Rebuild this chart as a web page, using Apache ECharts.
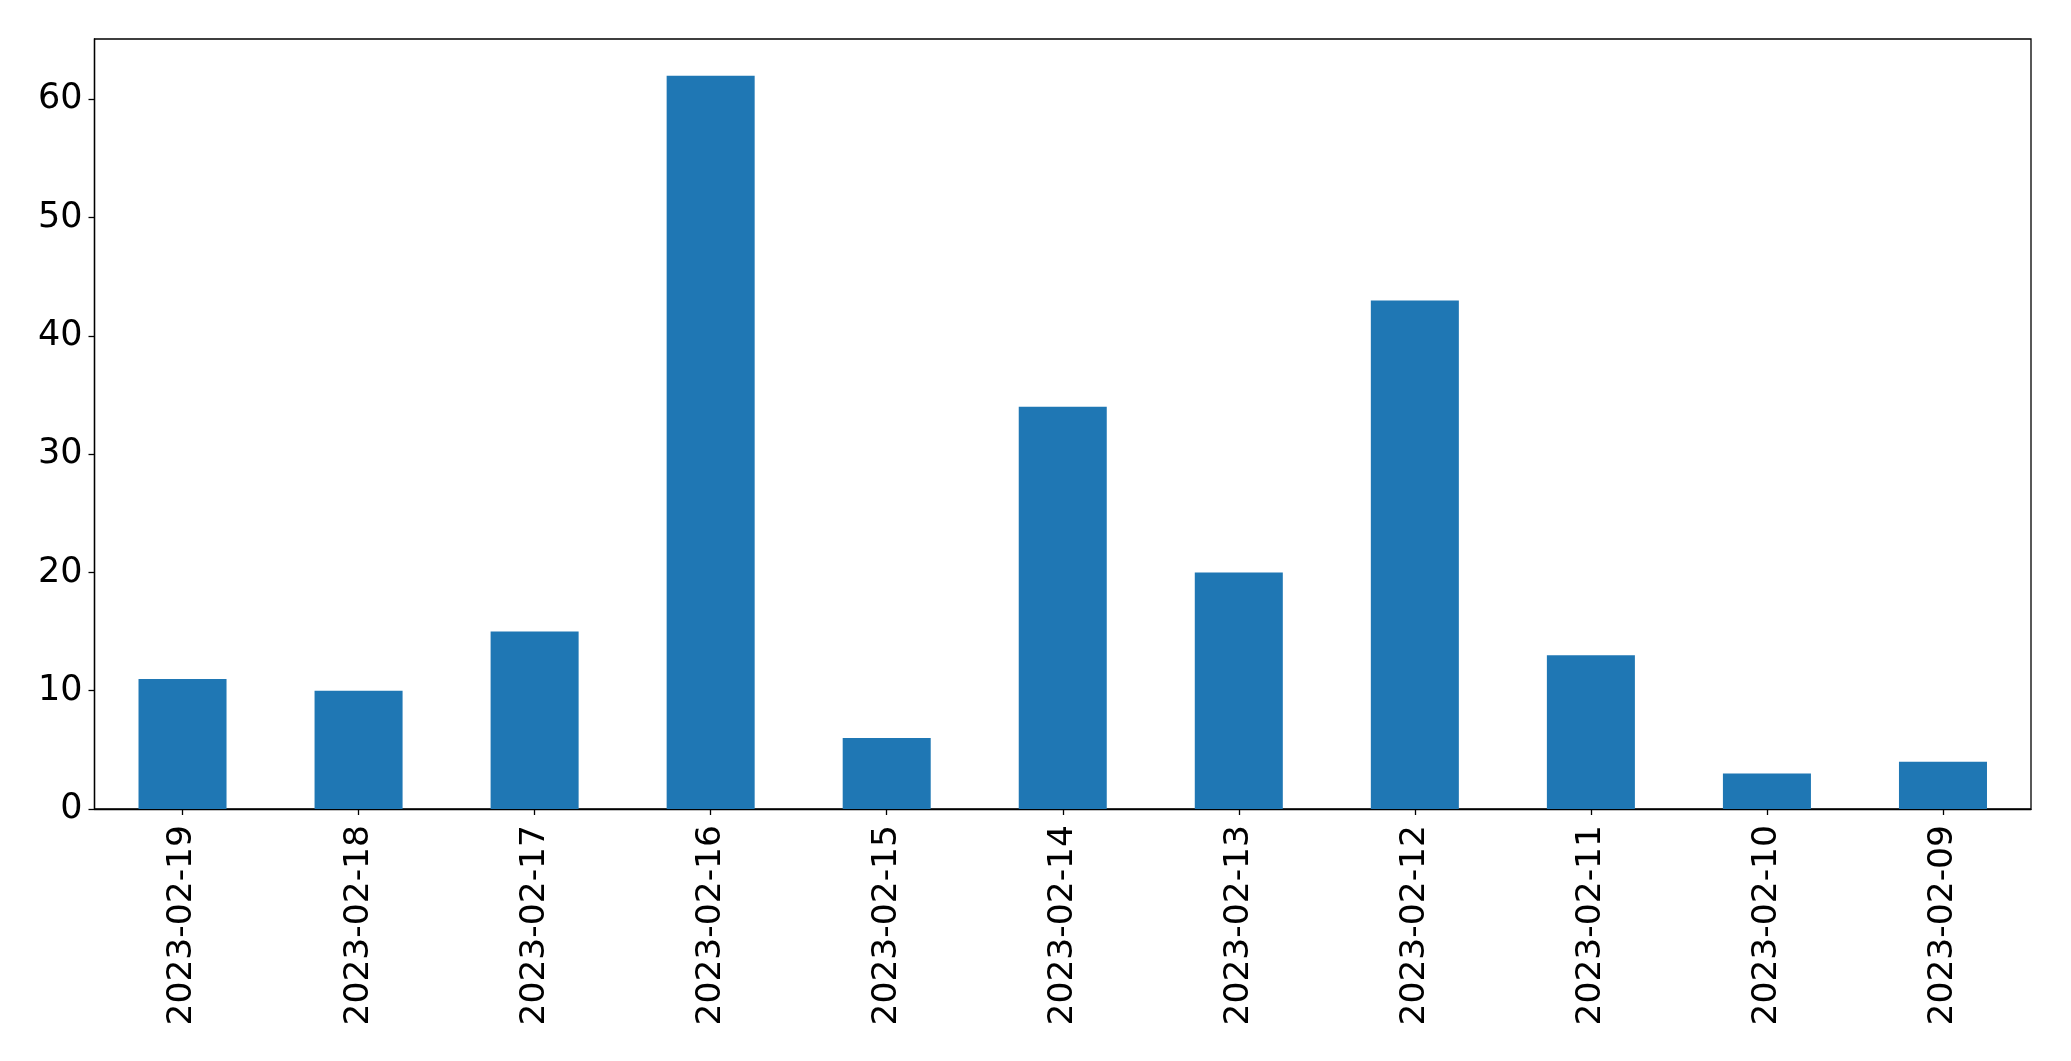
<!DOCTYPE html>
<html><head><meta charset="utf-8">
<script src="https://cdn.jsdelivr.net/npm/echarts@6/dist/echarts.min.js"></script>
<style>html,body{margin:0;padding:0;background:#fff}#c{width:2071px;height:1061px}</style>
</head><body><div id="c"></div>
<script>
const categories = ["2023-02-19","2023-02-18","2023-02-17","2023-02-16","2023-02-15","2023-02-14","2023-02-13","2023-02-12","2023-02-11","2023-02-10","2023-02-09"];
const values = [11, 10, 15, 62, 6, 34, 20, 43, 13, 3, 4];
const yTicks = [0, 10, 20, 30, 40, 50, 60];

const chart = echarts.init(document.getElementById('c'), null, {renderer:'canvas'});
chart.setOption({
  animation: false,
  backgroundColor: '#fff',
  textStyle: {fontFamily: 'DejaVu Sans'},
  grid: {left: 94.5, right: 40, top: 39, bottom: 252, show: true, borderColor: '#000', borderWidth: 1.3, containLabel: false},
  xAxis: {
    type: 'category', data: categories, boundaryGap: true,
    axisLine: {show: true, lineStyle: {color: '#000', width: 1.3}},
    axisTick: {show: true, alignWithLabel: true, length: 6, lineStyle: {color: '#000', width: 1.3}},
    axisLabel: {rotate: 90, margin: 16, fontSize: 34.5, color: '#000', fontFamily: 'DejaVu Sans'},
    splitLine: {show: false}
  },
  yAxis: {
    type: 'value', min: 0, max: 65.1, interval: 10,
    axisLine: {show: true, lineStyle: {color: '#000', width: 1.3}},
    axisTick: {show: true, length: 6, lineStyle: {color: '#000', width: 1.3}},
    axisLabel: {fontSize: 35, color: '#000', margin: 12, fontFamily: 'DejaVu Sans', showMaxLabel: false,
      formatter: v => yTicks.includes(v) ? String(v) : ''},
    splitLine: {show: false}
  },
  series: [{
    type: 'bar', data: values, barWidth: '50%',
    itemStyle: {color: '#1f77b4'}
  }]
});
</script></body></html>
